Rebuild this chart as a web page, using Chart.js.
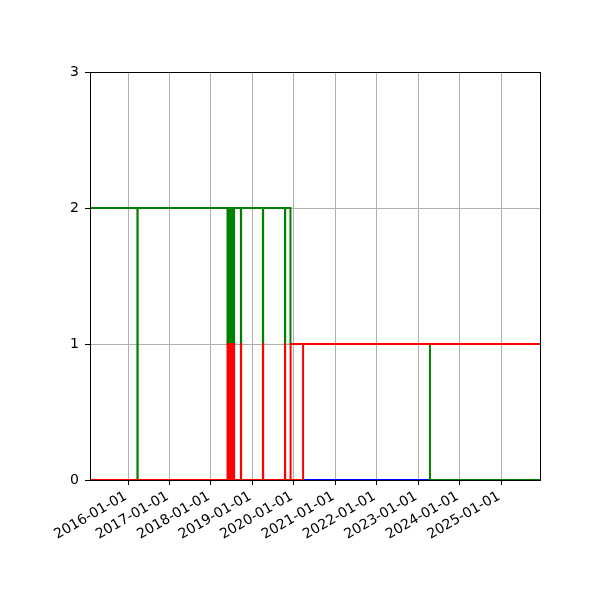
<!DOCTYPE html>
<html>
<head>
<meta charset="utf-8">
<script src="https://cdn.jsdelivr.net/npm/chart.js@4.4.1/dist/chart.umd.min.js"></script>
<style>
    html, body { margin: 0; padding: 0; background: #fff; }
    #wrap { width: 600px; height: 600px; }
</style>
</head>
<body>
<div id="wrap"><canvas id="statusChart" width="600" height="600"></canvas></div>
<script>
// x range of the plot
const xStart = '2015-01-31';
const xEnd = '2025-12-10';

const tickLabels = ['2016-01-01', '2017-01-01', '2018-01-01', '2019-01-01', '2020-01-01',
    '2021-01-01', '2022-01-01', '2023-01-01', '2024-01-01', '2025-01-01'];
const yTicks = [0, 1, 2, 3];

// green: holds 2, short dips, then 1 and finally 0
const greenDates = ['2015-01-31', '2016-03-24', '2016-03-26',
    '2018-05-27', '2018-05-30', '2018-06-02', '2018-06-05', '2018-06-08', '2018-06-11',
    '2018-06-14', '2018-06-17', '2018-06-20', '2018-06-23', '2018-06-26', '2018-06-29',
    '2018-07-02', '2018-07-05', '2018-07-08', '2018-07-11', '2018-07-14', '2018-07-17',
    '2018-07-20', '2018-07-24',
    '2018-09-22', '2018-09-24', '2019-04-04', '2019-04-06', '2019-10-15', '2019-10-17',
    '2019-12-03', '2023-04-15', '2025-12-10'];
const greenValues = [2, 0, 2,
    1, 2, 1, 2, 1, 2,
    1, 2, 1, 2, 1, 2,
    1, 2, 1, 2, 1, 2,
    1, 2,
    1, 2, 1, 2, 1, 2,
    1, 0, 0];

// red: mostly 0 with spikes, up to 1 in 2020
const redDates = ['2015-01-31',
    '2018-05-27', '2018-05-30', '2018-06-02', '2018-06-05', '2018-06-08', '2018-06-11',
    '2018-06-14', '2018-06-17', '2018-06-20', '2018-06-23', '2018-06-26', '2018-06-29',
    '2018-07-02', '2018-07-05', '2018-07-08', '2018-07-11', '2018-07-14', '2018-07-17',
    '2018-07-20', '2018-07-24',
    '2018-09-22', '2018-09-24', '2019-04-04', '2019-04-06', '2019-10-15', '2019-10-17',
    '2020-03-23', '2025-12-10'];
const redValues = [0,
    1, 0, 1, 0, 1, 0,
    1, 0, 1, 0, 1, 0,
    1, 0, 1, 0, 1, 0,
    1, 0,
    1, 0, 1, 0, 1, 0,
    1, 1];

// second red line, starts end of 2019
const redLateDates = ['2019-12-03', '2019-12-04', '2025-12-10'];
const redLateValues = [0, 1, 1];

// blue line at 0
const blueDates = ['2020-03-23', '2023-04-15'];
const blueValues = [0, 0];

function toPoints(dates, values) {
    return dates.map(function(d, i) {
        return { x: Date.parse(d), y: values[i] };
    });
}

const frame = {
    id: 'frame',
    afterDraw: function(chart) {
        const a = chart.chartArea;
        const ctx = chart.ctx;
        ctx.save();
        ctx.strokeStyle = '#000';
        ctx.lineWidth = 1;
        ctx.strokeRect(Math.round(a.left) + 0.5, Math.round(a.top) + 0.5,
            Math.round(a.right - a.left), Math.round(a.bottom - a.top));
        ctx.restore();
    }
};

document.addEventListener('DOMContentLoaded', function() {
    Chart.defaults.font.family = 'DejaVu Sans';
    Chart.defaults.font.size = 14;
    Chart.defaults.color = '#000';

    const line = function(points, color, order) {
        return {
            data: points,
            borderColor: color,
            backgroundColor: color,
            borderWidth: 2,
            pointRadius: 0,
            stepped: true,
            fill: false,
            order: order
        };
    };

    new Chart(document.getElementById('statusChart'), {
        type: 'line',
        data: {
            datasets: [
                line(toPoints(redDates, redValues), 'red', 1),
                line(toPoints(redLateDates, redLateValues), 'red', 2),
                line(toPoints(greenDates, greenValues), 'green', 3),
                line(toPoints(blueDates, blueValues), 'blue', 4)
            ]
        },
        plugins: [frame],
        options: {
            responsive: false,
            animation: false,
            layout: { padding: { left: 0, top: 72, right: 60, bottom: 0 } },
            plugins: {
                legend: { display: false },
                tooltip: { enabled: false }
            },
            scales: {
                x: {
                    type: 'linear',
                    min: Date.parse(xStart),
                    max: Date.parse(xEnd),
                    afterBuildTicks: function(scale) {
                        scale.ticks = tickLabels.map(function(t) { return { value: Date.parse(t) }; });
                    },
                    afterFit: function(scale) { scale.height = 120; },
                    grid: { color: '#b0b0b0', lineWidth: 1, tickColor: '#000', tickLength: 5 },
                    border: { display: true, color: '#000', width: 1 },
                    ticks: {
                        autoSkip: false,
                        minRotation: 30,
                        maxRotation: 30,
                        padding: 3,
                        labelOffset: -2,
                        callback: function(v) {
                            return new Date(v).toISOString().slice(0, 10);
                        }
                    }
                },
                y: {
                    min: 0,
                    max: 3,
                    afterBuildTicks: function(scale) {
                        scale.ticks = yTicks.map(function(t) { return { value: t }; });
                    },
                    afterFit: function(scale) { scale.width = 90; },
                    grid: { color: '#b0b0b0', lineWidth: 1, tickColor: '#000', tickLength: 5 },
                    border: { display: true, color: '#000', width: 1 },
                    ticks: { padding: 6 }
                }
            }
        }
    });
});
</script>
</body>
</html>
